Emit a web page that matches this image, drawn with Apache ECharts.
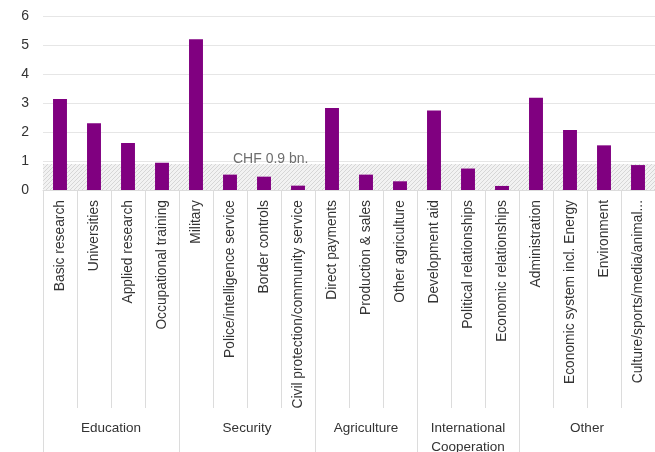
<!DOCTYPE html>
<html>
<head>
<meta charset="utf-8">
<script src="https://cdn.jsdelivr.net/npm/echarts@6/dist/echarts.min.js"></script>
<style>
  html, body { margin: 0; padding: 0; background: #fff; }
  #chart { width: 655px; height: 452px; }
</style>
</head>
<body>
<div id="chart"></div>
<script>
// Federal spending by task area (CHF bn.)
const categories = [
  'Basic research', 'Universities', 'Applied research', 'Occupational training',
  'Military', 'Police/intelligence service', 'Border controls', 'Civil protection/community service',
  'Direct payments', 'Production & sales', 'Other agriculture',
  'Development aid', 'Political relationships', 'Economic relationships',
  'Administration', 'Economic system incl. Energy', 'Environment', 'Culture/sports/media/animal...'
];
const values = [
  3.14, 2.30, 1.62, 0.94,
  5.20, 0.53, 0.46, 0.15,
  2.83, 0.53, 0.30,
  2.74, 0.74, 0.14,
  3.18, 2.07, 1.54, 0.86
];
const groups = ['Education', 'Security', 'Agriculture', 'International\nCooperation', 'Other'];
const groupSizes = [4, 4, 3, 3, 4];
const yTicks = [0, 1, 2, 3, 4, 5, 6];
const bandValue = 0.9;
const bandLabel = 'CHF 0.9 bn.';

// group boundaries and centres on a 0..N scale
const boundaries = [0];
const centres = [];
groupSizes.forEach(function (n) {
  const start = boundaries[boundaries.length - 1];
  centres.push(start + n / 2);
  boundaries.push(start + n);
});

// diagonal hatch for the reference band
const hatch = document.createElement('canvas');
hatch.width = 4; hatch.height = 4;
(function () {
  const c = hatch.getContext('2d');
  c.fillStyle = '#f2f2f2';
  c.fillRect(0, 0, 4, 4);
  c.strokeStyle = '#d6d6d6';
  c.lineWidth = 1;
  c.beginPath();
  c.moveTo(0, 4); c.lineTo(4, 0);
  c.moveTo(-1, 1); c.lineTo(1, -1);
  c.moveTo(3, 5); c.lineTo(5, 3);
  c.stroke();
})();

const font = '"Liberation Sans", Arial, Helvetica, sans-serif';
const chart = echarts.init(document.getElementById('chart'));

chart.setOption({
  animation: false,
  textStyle: { fontFamily: font },
  grid: {
    left: 43, right: 0, top: 16, bottom: 262,
    containLabel: false, outerBoundsMode: 'none'
  },
  xAxis: [
    {
      type: 'category',
      data: categories,
      boundaryGap: true,
      axisLine: { show: true, lineStyle: { color: '#dcdcdc', width: 1 } },
      axisTick: { show: true, interval: 0, length: 218, lineStyle: { color: '#dcdcdc' } },
      axisLabel: {
        interval: 0, rotate: 90, margin: 10,
        fontSize: 13.8, color: '#333', fontFamily: font
      },
      splitLine: { show: false }
    },
    {
      type: 'value',
      min: 0,
      max: categories.length,
      position: 'bottom',
      offset: 218,
      axisLine: { show: false },
      splitLine: { show: false },
      axisTick: {
        show: true, length: 44, customValues: boundaries,
        lineStyle: { color: '#dcdcdc' }
      },
      axisLabel: {
        show: true, customValues: centres, margin: 11,
        fontSize: 13.5, lineHeight: 19, color: '#333', fontFamily: font,
        formatter: function (v) {
          const i = centres.indexOf(v);
          return i >= 0 ? groups[i] : '';
        }
      }
    }
  ],
  yAxis: {
    type: 'value',
    min: yTicks[0],
    max: yTicks[yTicks.length - 1],
    interval: 1,
    axisLine: { show: false },
    axisTick: { show: false },
    axisLabel: { fontSize: 14, color: '#333', margin: 14, fontFamily: font },
    splitLine: { lineStyle: { color: '#e6e6e6', width: 1 } }
  },
  series: [
    {
      type: 'bar',
      xAxisIndex: 0,
      data: values,
      barWidth: '41%',
      itemStyle: { color: '#800080' },
      markArea: {
        silent: true,
        itemStyle: { color: { image: hatch, repeat: 'repeat' } },
        label: {
          show: true,
          position: [190, -12],
          formatter: bandLabel,
          fontSize: 14,
          color: '#6e6e6e',
          fontFamily: font
        },
        data: [[{ yAxis: 0, x: 43 }, { yAxis: bandValue, x: 655 }]]
      }
    }
  ]
});
</script>
</body>
</html>
